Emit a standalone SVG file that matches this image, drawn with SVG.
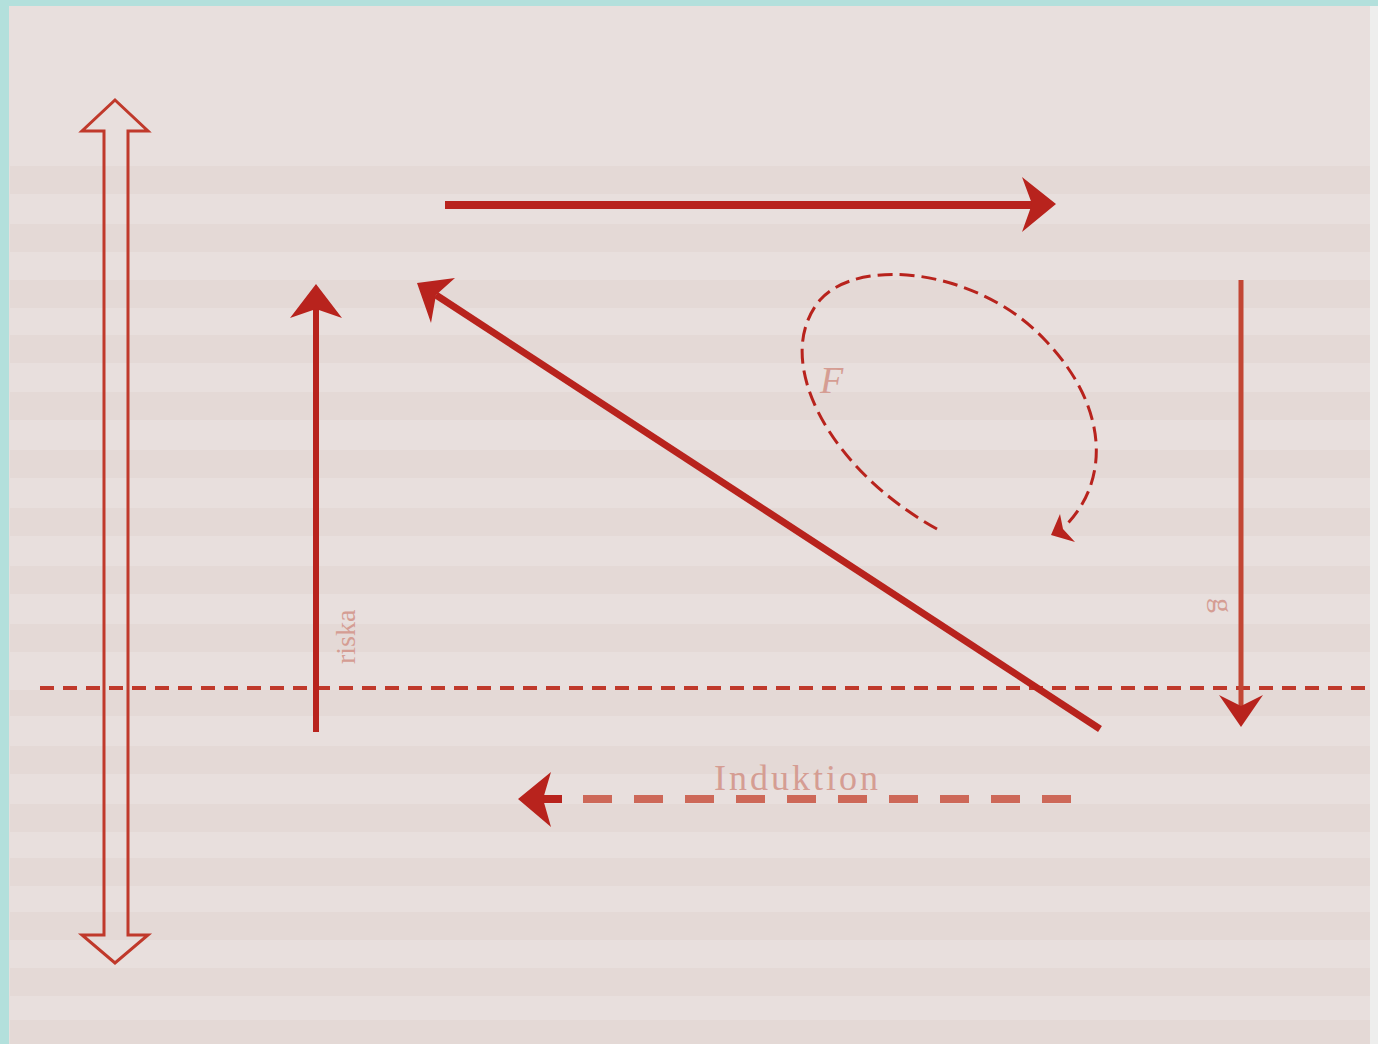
<svg xmlns="http://www.w3.org/2000/svg" width="1378" height="1044" viewBox="0 0 1378 1044">
  <style>
    .solid { fill: #b8231d; }
    .shaft { stroke: #b8231d; fill: none; stroke-linecap: butt; }
    .thin { stroke: #c0392b; fill: none; }
    .faded { font-family: "Liberation Serif", "DejaVu Serif", serif; fill: #d59d93; }
    .band { fill: #d9c6c3; opacity: 0.25; }
  </style>
  <rect x="0" y="0" width="1378" height="1044" fill="#e8dfdd"/>
  <g id="page-texture">
    <rect class="band" x="10" y="166" width="1360" height="28"/>
    <rect class="band" x="10" y="224" width="1360" height="28"/>
    <rect class="band" x="10" y="280" width="1360" height="28"/>
    <rect class="band" x="10" y="335" width="1360" height="28"/>
    <rect class="band" x="10" y="392" width="1360" height="28"/>
    <rect class="band" x="10" y="450" width="1360" height="28"/>
    <rect class="band" x="10" y="508" width="1360" height="28"/>
    <rect class="band" x="10" y="566" width="1360" height="28"/>
    <rect class="band" x="10" y="624" width="1360" height="28"/>
    <rect class="band" x="10" y="690" width="1360" height="26"/>
    <rect class="band" x="10" y="746" width="1360" height="28"/>
    <rect class="band" x="10" y="804" width="1360" height="28"/>
    <rect class="band" x="10" y="858" width="1360" height="28"/>
    <rect class="band" x="10" y="912" width="1360" height="28"/>
    <rect class="band" x="10" y="968" width="1360" height="28"/>
    <rect class="band" x="10" y="1020" width="1360" height="24"/>
  </g>
  <rect x="0" y="0" width="1378" height="6" fill="#b3e0dc"/>
  <rect x="0" y="0" width="9" height="1044" fill="#b3e0dc"/>
  <rect x="1370" y="6" width="8" height="1038" fill="#eeeeed"/>

  <g id="connectors">
    <!-- hollow double-headed arrow -->
    <polygon class="thin" stroke-width="3" points="115,100 148,131 128,131 128,935 148,935 115,963 82,935 104,935 104,131 82,131"/>

    <!-- baseline dashed horizontal -->
    <line x1="40" y1="688" x2="1370" y2="688" stroke="#c0392b" stroke-width="4" stroke-dasharray="14 9"/>

    <!-- top arrow to the right -->
    <line class="shaft" x1="445" y1="205" x2="1032" y2="205" stroke-width="8"/>
    <polygon class="solid" points="1056,204 1022,177 1032,204 1022,232"/>

    <!-- left upward arrow -->
    <line class="shaft" x1="316" y1="732" x2="316" y2="306" stroke-width="6"/>
    <polygon class="solid" points="316,284 342,318 316,309 290,318"/>

    <!-- diagonal arrow -->
    <line class="shaft" x1="1100" y1="729" x2="436" y2="295" stroke-width="7"/>
    <polygon class="solid" points="417,283 455,278 436,295 431,323"/>

    <!-- right downward arrow -->
    <line x1="1241" y1="280" x2="1241" y2="708" stroke="#c24634" stroke-width="5"/>
    <polygon class="solid" points="1241,727 1263,695 1241,706 1219,695"/>

    <!-- dashed loop -->
    <path d="M937,529 C830,470 770,360 820,300 C860,255 980,270 1045,340 C1112,410 1108,485 1064,527" fill="none" stroke="#b8231d" stroke-width="3" stroke-dasharray="15 7"/>
    <polygon class="solid" points="1051,535 1060,514 1063,529 1075,542"/>

    <!-- Induktion dashed arrow -->
    <line x1="583" y1="799" x2="1071" y2="799" stroke="#cd6858" stroke-width="8" stroke-dasharray="29 22"/>
    <rect x="540" y="795" width="22" height="8" class="solid"/>
    <polygon class="solid" points="518,799 551,772 543,799 551,827"/>
  </g>

  <g id="labels">
    <text class="faded" x="714" y="790" font-size="36" letter-spacing="3">Induktion</text>
    <text class="faded" x="820" y="393" font-size="38" font-style="italic">F</text>
    <text class="faded" x="355" y="664" font-size="28" transform="rotate(-90 355 664)">riska</text>
    <text class="faded" x="1213" y="598" font-size="30" transform="rotate(90 1213 598)">g</text>
  </g>
</svg>
